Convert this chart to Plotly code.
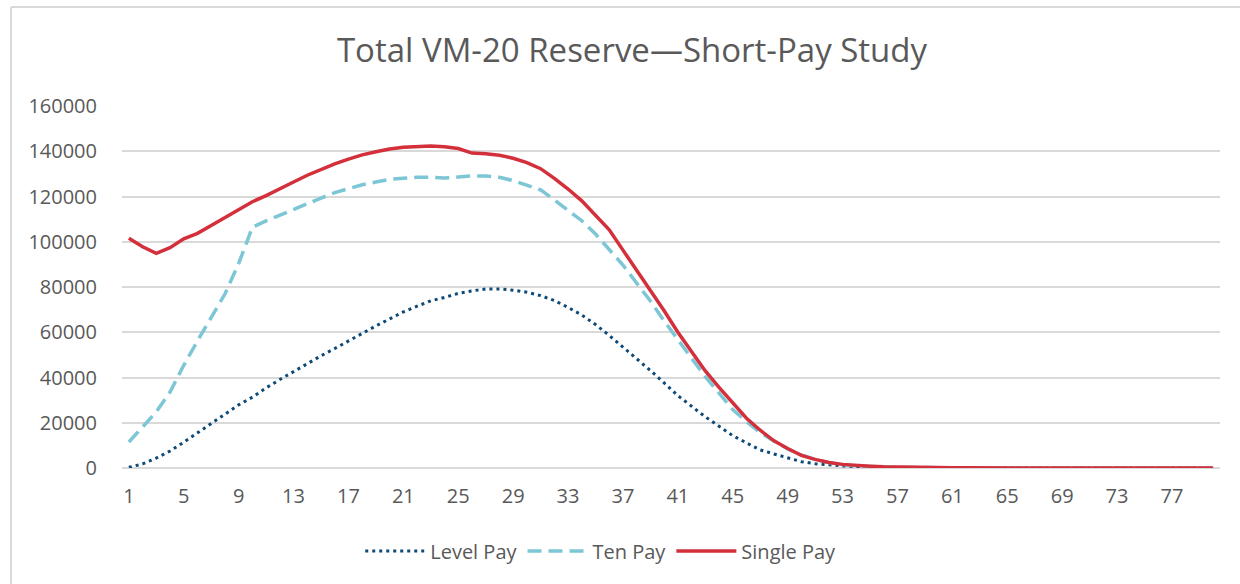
import plotly.graph_objects as go

years = list(range(1, 81))
tick_vals = list(range(1, 80, 4))
tick_text = [str(v) for v in tick_vals]
y_ticks = list(range(0, 160001, 20000))

level_pay = [
    300, 1800, 4400, 7500, 11400, 15500, 19600, 23800, 27900, 31300,
    35400, 39100, 42700, 46200, 49600, 52800, 56200, 59600, 62800, 65900,
    69000, 71500, 73900, 75400, 77200, 78300, 79100, 79100, 78600, 77700,
    76200, 74000, 71000, 67600, 63400, 58600, 53500, 48400, 43100, 37600,
    32000, 27300, 22600, 18500, 14300, 11100, 8000, 6200, 4400, 2800,
    1900, 1300, 900, 600, 400, 250, 150, 100, 50, 30,
    20, 10, 10, 0, 0, 0, 0, 0, 0, 0,
    0, 0, 0, 0, 0, 0, 0, 0, 0, 0,
]

ten_pay = [
    11500, 18100, 24800, 33600, 45400, 56200, 66500, 76900, 90400, 106400,
    109200, 111800, 114300, 117000, 119300, 121700, 123500, 125200, 126400, 127600,
    128100, 128500, 128500, 128200, 128600, 129100, 129100, 128500, 127000, 125100,
    122900, 118500, 114000, 109300, 103400, 96800, 89700, 81700, 73800, 65000,
    56500, 48500, 40400, 32900, 25800, 20500, 15700, 11900, 8400, 5800,
    3700, 2400, 1500, 1000, 600, 400, 250, 150, 100, 60,
    40, 30, 20, 10, 10, 0, 0, 0, 0, 0,
    0, 0, 0, 0, 0, 0, 0, 0, 0, 0,
]

single_pay = [
    101500, 97800, 94900, 97400, 101300, 103700, 107200, 110600, 114000, 117700,
    120400, 123200, 126400, 129400, 132000, 134400, 136500, 138400, 139800, 141000,
    141800, 142200, 142300, 142000, 141200, 139200, 138900, 138200, 136900, 135000,
    132300, 128000, 123300, 118100, 111900, 105300, 96300, 87500, 78900, 69500,
    60000, 51600, 42900, 35600, 28600, 22000, 16700, 12000, 8600, 5600,
    3800, 2400, 1600, 1100, 800, 500, 350, 250, 150, 100,
    80, 60, 50, 40, 30, 20, 20, 10, 10, 10,
    0, 0, 0, 0, 0, 0, 0, 0, 0, 0,
]

FONT = "Open Sans"
TXT = "#595959"
GRID = "#d9d9d9"

fig = go.Figure()
fig.add_trace(go.Scatter(x=years, y=level_pay, mode="lines", name="Level Pay",
                         line=dict(color="#0d4a78", width=3, dash="3px,4px")))
fig.add_trace(go.Scatter(x=years, y=ten_pay, mode="lines", name="Ten Pay",
                         line=dict(color="#7cc6d6", width=3.5, dash="14px,7px")))
fig.add_trace(go.Scatter(x=years, y=single_pay, mode="lines", name="Single Pay",
                         line=dict(color="#d3303b", width=3.5)))

fig.update_layout(
    width=1240, height=584,
    paper_bgcolor="white", plot_bgcolor="white",
    margin=dict(l=122, r=20, t=106, b=116),
    font=dict(family=FONT, color=TXT, size=20),
    title=dict(text="Total VM-20 Reserve\u2014Short-Pay Study",
               font=dict(family=FONT, size=33, color=TXT),
               x=632/1240, xref="container", xanchor="center",
               y=1-50/584, yref="container", yanchor="middle"),
    xaxis=dict(range=[0.5, 80.5], tickmode="array", tickvals=tick_vals, ticktext=tick_text,
               showgrid=False, zeroline=False, showline=False,
               ticks="outside", ticklen=10, tickcolor="rgba(0,0,0,0)",
               tickfont=dict(size=20, color=TXT)),
    yaxis=dict(range=[0, 160000], tickmode="array", tickvals=y_ticks, tickformat="d",
               showgrid=True, gridcolor=GRID, gridwidth=1.5,
               zeroline=True, zerolinecolor=GRID, zerolinewidth=1.5,
               showline=False, ticks="outside", ticklen=20, tickcolor="rgba(0,0,0,0)",
               tickfont=dict(size=20, color=TXT)),
    legend=dict(orientation="h", x=0.436, xanchor="center", y=-0.229, yanchor="middle",
                font=dict(size=20, color=TXT), itemwidth=60, traceorder="normal"),
    shapes=[
        dict(type="line", xref="paper", yref="paper",
             x0=(11-122)/1098, x1=(1245-122)/1098, y0=(584-116-7)/362, y1=(584-116-7)/362,
             line=dict(color=GRID, width=2)),
        dict(type="line", xref="paper", yref="paper",
             x0=(11-122)/1098, x1=(11-122)/1098, y0=(584-116-7)/362, y1=-0.5,
             line=dict(color=GRID, width=2)),
    ],
)

fig.write_html("out.html", config={"displayModeBar": False})

with open("out.html", "r", encoding="utf-8") as f:
    html = f.read()
html = html.replace("<head>", "<head><style>html,body{margin:0;padding:0;overflow:hidden;}</style>", 1)
with open("out.html", "w", encoding="utf-8") as f:
    f.write(html)
